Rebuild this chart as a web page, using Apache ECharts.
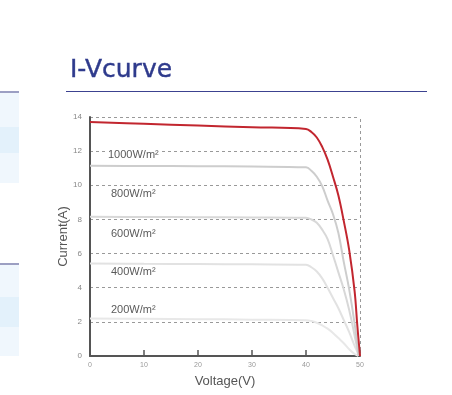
<!DOCTYPE html>
<html><head><meta charset="utf-8">
<script src="https://cdn.jsdelivr.net/npm/echarts@6/dist/echarts.min.js"></script>
<style>html,body{margin:0;padding:0;background:#fff}#c{width:452px;height:395px}</style>
</head><body><div id="c"></div>
<script>
// Shared voltage sample points (V)
const voltage = [0, 10, 20, 30, 40, 41, 42, 43, 44, 45, 46, 47, 48, 49, 49.5];
// Current (A) at each voltage for each irradiance
const current1000 = [13.7, 13.6, 13.5, 13.4, 13.3, 13.12, 12.8, 12.25, 11.5, 10.5, 9.4, 7.9, 6.2, 3.8, 1.8];
const current800  = [11.15, 11.13, 11.12, 11.1, 11.05, 10.85, 10.5, 9.95, 9.1, 8.3, 7.2, 5.5, 3.9, 1.9, 0.6];
const current600  = [8.15, 8.14, 8.13, 8.12, 8.1, 8.0, 7.8, 7.4, 6.85, 5.9, 4.9, 3.9, 2.7, 1.2, 0.4];
const current400  = [5.42, 5.4, 5.39, 5.37, 5.35, 5.2, 4.95, 4.55, 4.0, 3.4, 2.8, 2.1, 1.4, 0.6, 0.25];
const current200  = [2.2, 2.18, 2.16, 2.13, 2.1, 2.05, 1.95, 1.8, 1.6, 1.35, 1.05, 0.75, 0.4, 0.12, 0.04];
// Open-circuit voltage for each curve (current = 0)
const openCircuitV = [50, 49.7, 49.7, 49.7, 49.7];
const seriesNames = ['1000W/m²', '800W/m²', '600W/m²', '400W/m²', '200W/m²'];
const xTicks = [0, 10, 20, 30, 40, 50];
const yTicks = [0, 2, 4, 6, 8, 10, 12, 14];

const currents = [current1000, current800, current600, current400, current200];
const colors = ['#c2262f', '#cdcdcd', '#d8d8d8', '#e2e2e2', '#e8e8e8'];

function buildData(cur, voc) {
  const d = voltage.map((v, i) => [v, cur[i]]);
  d.push([voc, 0]);
  return d;
}

const series = currents.map((cur, k) => ({
  name: seriesNames[k],
  type: 'line',
  data: buildData(cur, openCircuitV[k]),
  smooth: 0.4,
  showSymbol: false,
  z: 10 - k,
  lineStyle: { color: colors[k], width: 2 },
  silent: true
})).reverse();

series[series.length - 1].markLine = {
  silent: true,
  symbol: 'none',
  label: { show: false },
  lineStyle: { color: '#999', type: [3, 3], width: 1 },
  data: [{ xAxis: xTicks[xTicks.length - 1] }]
};

const labelFont = '"Liberation Sans", Arial, sans-serif';
const curveLabels = [
  { text: seriesNames[0], x: 107, y: 155 },
  { text: seriesNames[1], x: 110, y: 194 },
  { text: seriesNames[2], x: 110, y: 234 },
  { text: seriesNames[3], x: 110, y: 272 },
  { text: seriesNames[4], x: 110, y: 310 }
];

const chart = echarts.init(document.getElementById('c'), null, { renderer: 'canvas' });
chart.setOption({
  animation: false,
  backgroundColor: '#fff',
  grid: { left: 90, right: 92, top: 117, bottom: 39, containLabel: false, outerBoundsMode: 'none' },
  xAxis: {
    type: 'value', min: xTicks[0], max: xTicks[xTicks.length - 1], interval: 10,
    name: 'Voltage(V)', nameLocation: 'middle', nameGap: 19, nameMoveOverlap: false,
    nameTextStyle: { fontSize: 13, color: '#555', fontFamily: labelFont },
    axisLine: { show: true, lineStyle: { color: '#555', width: 2 } },
    axisTick: { show: true, inside: true, length: 6, lineStyle: { color: '#555', width: 1.5 } },
    axisLabel: { fontSize: 7, color: '#999', margin: 6, fontFamily: labelFont },
    splitLine: { show: false }
  },
  yAxis: {
    type: 'value', min: yTicks[0], max: yTicks[yTicks.length - 1], interval: 2,
    name: 'Current(A)', nameLocation: 'middle', nameGap: 20, nameRotate: 90, nameMoveOverlap: false,
    nameTextStyle: { fontSize: 13, color: '#555', fontFamily: labelFont },
    axisLine: { show: true, lineStyle: { color: '#555', width: 2 } },
    axisTick: { show: false },
    axisLabel: { fontSize: 8, color: '#888', margin: 8, fontFamily: labelFont },
    splitLine: { show: true, lineStyle: { color: '#999', type: [3, 3], width: 1 } }
  },
  series: series,
  graphic: [
    { type: 'text', x: 70, y: 58, style: { text: 'I-Vcurve', fontSize: 25, fontFamily: '"DejaVu Sans", Verdana, sans-serif', fill: '#2e3a8c', stroke: '#2e3a8c', lineWidth: 0.4 } },
    { type: 'line', shape: { x1: 66, y1: 91.5, x2: 427, y2: 91.5 }, style: { stroke: '#3c4290', lineWidth: 1.2 } },
    { type: 'line', shape: { x1: 0, y1: 92, x2: 19, y2: 92 }, style: { stroke: '#5a5f9a', lineWidth: 1.2 } },
    { type: 'rect', shape: { x: 0, y: 93, width: 19, height: 34 }, style: { fill: '#f0f7fd' } },
    { type: 'rect', shape: { x: 0, y: 127, width: 19, height: 26 }, style: { fill: '#e3f1fb' } },
    { type: 'rect', shape: { x: 0, y: 153, width: 19, height: 30 }, style: { fill: '#f0f7fd' } },
    { type: 'line', shape: { x1: 0, y1: 264, x2: 19, y2: 264 }, style: { stroke: '#5a5f9a', lineWidth: 1.2 } },
    { type: 'rect', shape: { x: 0, y: 265, width: 19, height: 32 }, style: { fill: '#f0f7fd' } },
    { type: 'rect', shape: { x: 0, y: 297, width: 19, height: 30 }, style: { fill: '#e3f1fb' } },
    { type: 'rect', shape: { x: 0, y: 327, width: 19, height: 29 }, style: { fill: '#f0f7fd' } }
  ].concat(curveLabels.map(l => ({
    type: 'text', x: l.x, y: l.y, z: 100,
    style: { text: l.text, fontSize: 11, fontFamily: labelFont, fill: '#5a5a5a', verticalAlign: 'middle',
             backgroundColor: '#fff', padding: [0, 1] }
  })))
});
</script>
</body></html>
